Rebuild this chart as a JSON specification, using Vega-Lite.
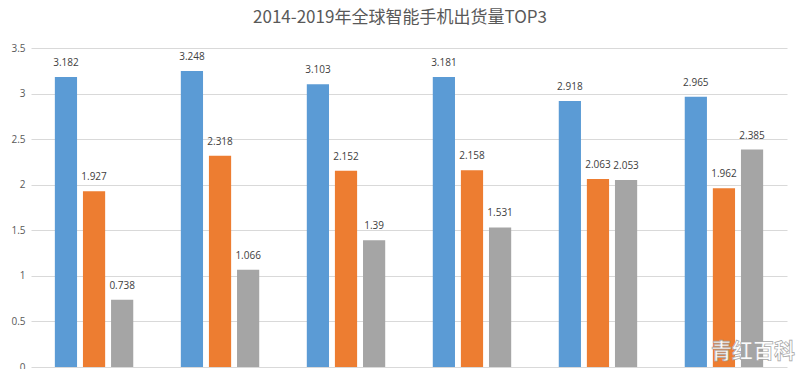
{
  "$schema": "https://vega.github.io/schema/vega-lite/v6.json",
  "width": 756,
  "height": 319,
  "autosize": {"type": "none"},
  "padding": {"left": 31, "top": 48, "right": 13, "bottom": 2},
  "background": "white",
  "title": {
    "text": "2014-2019年全球智能手机出货量TOP3",
    "fontSize": 17,
    "font": "Noto Sans CJK SC",
    "fontWeight": "normal",
    "color": "#595959",
    "anchor": "middle",
    "dx": -9,
    "offset": 16
  },
  "config": {"view": {"stroke": null}},
  "data": {
    "values": [
      {"year": "2014", "brand": "三星", "value": 3.182},
      {"year": "2014", "brand": "苹果", "value": 1.927},
      {"year": "2014", "brand": "华为", "value": 0.738},
      {"year": "2015", "brand": "三星", "value": 3.248},
      {"year": "2015", "brand": "苹果", "value": 2.318},
      {"year": "2015", "brand": "华为", "value": 1.066},
      {"year": "2016", "brand": "三星", "value": 3.103},
      {"year": "2016", "brand": "苹果", "value": 2.152},
      {"year": "2016", "brand": "华为", "value": 1.39},
      {"year": "2017", "brand": "三星", "value": 3.181},
      {"year": "2017", "brand": "苹果", "value": 2.158},
      {"year": "2017", "brand": "华为", "value": 1.531},
      {"year": "2018", "brand": "三星", "value": 2.918},
      {"year": "2018", "brand": "苹果", "value": 2.063},
      {"year": "2018", "brand": "华为", "value": 2.053},
      {"year": "2019", "brand": "三星", "value": 2.965},
      {"year": "2019", "brand": "苹果", "value": 1.962},
      {"year": "2019", "brand": "华为", "value": 2.385}
    ]
  },
  "encoding": {
    "x": {"field": "year", "type": "nominal", "axis": null, "scale": {"paddingInner": 0.333, "paddingOuter": 0.167}},
    "y": {
      "field": "value", "type": "quantitative",
      "scale": {"domain": [0, 3.5], "nice": false},
      "axis": {
        "title": null, "values": [0, 0.5, 1, 1.5, 2, 2.5, 3, 3.5], "format": "~g",
        "domain": false, "ticks": false, "labelPadding": 6,
        "labelFontSize": 10, "labelColor": "#595959", "labelFont": "Open Sans",
        "gridColor": "#d9d9d9", "gridWidth": 1
      }
    }
  },
  "layer": [
    {
      "mark": {"type": "bar"},
      "encoding": {
        "xOffset": {"field": "brand", "type": "nominal", "sort": ["三星", "苹果", "华为"], "scale": {"paddingInner": 0.21, "paddingOuter": 0.1}},
        "color": {
          "field": "brand", "type": "nominal", "legend": null,
          "scale": {"domain": ["三星", "苹果", "华为"], "range": ["#5b9bd5", "#ed7d31", "#a5a5a5"]}
        }
      }
    },
    {
      "mark": {"type": "text", "baseline": "bottom", "dy": -9, "fontSize": 10, "font": "Open Sans", "color": "#404040"},
      "encoding": {
        "xOffset": {"field": "brand", "type": "nominal", "sort": ["三星", "苹果", "华为"]},
        "text": {"field": "value", "type": "quantitative"}
      }
    },
    {
      "data": {"values": [{"year": "2019", "value": 0.165, "label": "青红百科"}]},
      "mark": {"type": "text", "baseline": "middle", "align": "center", "dx": 29, "fontSize": 21, "fontWeight": "bold", "font": "Noto Sans CJK SC", "color": "white", "stroke": "#a0a0a0", "strokeWidth": 0.7, "opacity": 0.95},
      "encoding": {"text": {"field": "label", "type": "nominal"}}
    }
  ]
}
